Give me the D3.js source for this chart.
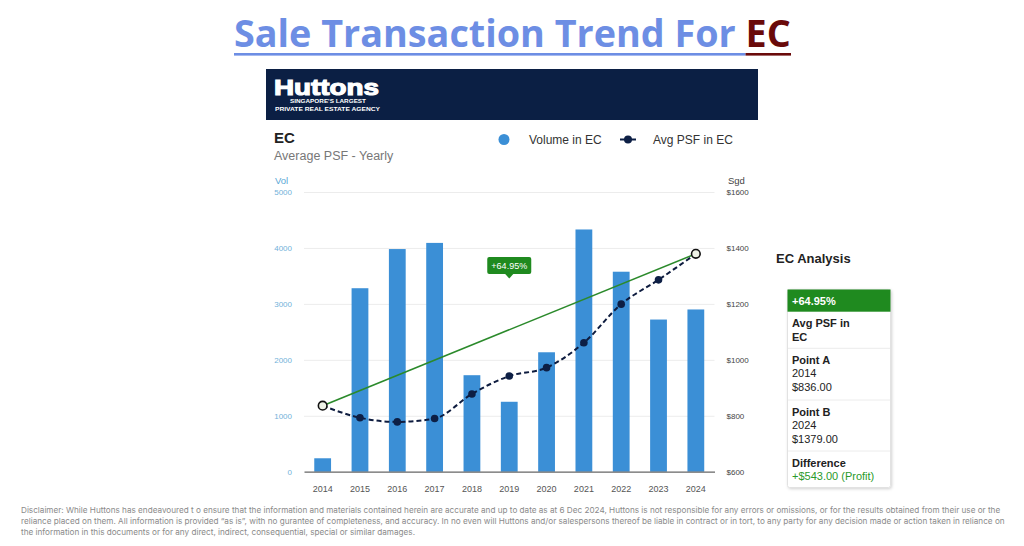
<!DOCTYPE html>
<html><head><meta charset="utf-8">
<script src="https://cdn.jsdelivr.net/npm/d3@7"></script>
<style>body{margin:0;background:#fff;overflow:hidden}svg{display:block}</style>
</head><body>
<svg id="c" width="1024" height="546"></svg>
<script>
// ---- data ----
const years = ["2014","2015","2016","2017","2018","2019","2020","2021","2022","2023","2024"];
const volume = [240, 3280, 3980, 4090, 1725, 1250, 2135, 4330, 3575, 2720, 2900];
const avgPsf = [836, 793, 778, 790, 878, 942, 972, 1061, 1199, 1286, 1379];
const volTicks = [0, 1000, 2000, 3000, 4000, 5000];
const psfTicks = [600, 800, 1000, 1200, 1400, 1600];
const changeLabel = "+64.95%";
const analysisRows = [
  {bold:true, lines:["Avg PSF in","EC"]},
  {bold:false, head:"Point A", lines:["2014","$836.00"]},
  {bold:false, head:"Point B", lines:["2024","$1379.00"]},
  {bold:false, head:"Difference", lines:["+$543.00 (Profit)"], green:true}
];
const disclaimer = [
  "Disclaimer: While Huttons has endeavoured t o ensure that the information and materials contained herein are accurate and up to date as at 6 Dec 2024, Huttons is not responsible for any errors or omissions, or for the results obtained from their use or the",
  "reliance placed on them. All information is provided \u201cas is\u201d, with no gurantee of completeness, and accuracy. In no even will Huttons and/or salespersons thereof be liable in contract or in tort, to any party for any decision made or action taken in reliance on",
  "the information in this documents or for any direct, indirect, consequential, special or similar damages."
];

const svg = d3.select("#c");
const SANS = "'Liberation Sans', Arial, sans-serif";

// ---- Title ----
const title = svg.append("text").attr("x", 234).attr("y", 47)
  .attr("font-family", "'Open Sans', Roboto, sans-serif").attr("font-weight", 700).attr("font-size", 32);
title.append("tspan").attr("fill", "#6d8ee4").text("Sale Transaction Trend For ");
title.append("tspan").attr("fill", "#6a0a0a").text("EC");
let w = title.node().getComputedTextLength();
title.attr("font-size", 32 * 557 / w);
const ecStart = title.node().getStartPositionOfChar(27).x;
svg.append("rect").attr("x", 234).attr("y", 53).attr("width", ecStart - 234).attr("height", 2.6).attr("fill", "#6d8ee4");
svg.append("rect").attr("x", ecStart).attr("y", 53).attr("width", 234 + 557 - ecStart).attr("height", 2.6).attr("fill", "#6a0a0a");

// ---- Header banner ----
svg.append("rect").attr("x", 266).attr("y", 69).attr("width", 492).attr("height", 51).attr("fill", "#0b1f44");
svg.append("text").attr("x", 274).attr("y", 95).attr("fill", "#fff").attr("stroke", "#fff").attr("stroke-width", 1.1)
  .attr("font-family", SANS).attr("font-weight", 900).attr("font-size", 22)
  .attr("textLength", 105).attr("lengthAdjust", "spacingAndGlyphs").text("Huttons");
svg.append("text").attr("x", 290).attr("y", 103).attr("fill", "#fff")
  .attr("font-family", SANS).attr("font-weight", 700).attr("font-size", 6)
  .attr("textLength", 76).attr("lengthAdjust", "spacingAndGlyphs").text("SINGAPORE'S LARGEST");
svg.append("text").attr("x", 275).attr("y", 111).attr("fill", "#fff")
  .attr("font-family", SANS).attr("font-weight", 700).attr("font-size", 6)
  .attr("textLength", 105).attr("lengthAdjust", "spacingAndGlyphs").text("PRIVATE REAL ESTATE AGENCY");

// ---- chart headings ----
svg.append("text").attr("x", 274).attr("y", 143).attr("font-family", SANS).attr("font-weight", 700)
  .attr("font-size", 15).attr("fill", "#222").text("EC");
svg.append("text").attr("x", 274).attr("y", 160).attr("font-family", SANS)
  .attr("font-size", 12.5).attr("fill", "#777").text("Average PSF - Yearly");

// legend
svg.append("circle").attr("cx", 504).attr("cy", 139.5).attr("r", 5.5).attr("fill", "#3b8fd6");
svg.append("text").attr("x", 529).attr("y", 143.5).attr("font-family", SANS).attr("font-size", 12).attr("fill", "#333").text("Volume in EC");
svg.append("line").attr("x1", 620).attr("x2", 636).attr("y1", 139.5).attr("y2", 139.5).attr("stroke", "#0d1f45").attr("stroke-width", 2);
svg.append("circle").attr("cx", 628).attr("cy", 139.5).attr("r", 4).attr("fill", "#0d1f45");
svg.append("text").attr("x", 653).attr("y", 143.5).attr("font-family", SANS).attr("font-size", 12).attr("fill", "#333").text("Avg PSF in EC");

// axis titles
svg.append("text").attr("x", 275).attr("y", 184).attr("font-family", SANS).attr("font-size", 9.5).attr("fill", "#5aa8d6").text("Vol");
svg.append("text").attr("x", 728).attr("y", 184).attr("font-family", SANS).attr("font-size", 9.5).attr("fill", "#444").text("Sgd");

// ---- scales ----
const x = d3.scaleBand().domain(years).range([304, 714.5]).paddingInner(0.55).paddingOuter(0.275);
const yVol = d3.scaleLinear().domain([0, 5000]).range([471.7, 192]);
const yPsf = d3.scaleLinear().domain([600, 1600]).range([471.7, 192]);
const cx = d => x(d) + x.bandwidth() / 2;

// gridlines
const grid = svg.append("g").attr("transform", "translate(304,0)")
  .call(d3.axisLeft(yVol).tickValues(volTicks.slice(1)).tickSize(-410.5).tickFormat(""));
grid.select(".domain").remove();
grid.selectAll("line").attr("stroke", "#ececec");

// left axis labels
const la = svg.append("g").attr("transform", "translate(304,0)")
  .call(d3.axisLeft(yVol).tickValues(volTicks).tickSize(0).tickPadding(12).tickFormat(d3.format("d")));
la.select(".domain").remove();
la.selectAll("text").attr("font-family", SANS).attr("font-size", 8).attr("fill", "#72b2da");

// right axis labels
const ra = svg.append("g").attr("transform", "translate(714.5,0)")
  .call(d3.axisRight(yPsf).tickValues(psfTicks).tickSize(0).tickPadding(12).tickFormat(d => "$" + d));
ra.select(".domain").remove();
ra.selectAll("text").attr("font-family", SANS).attr("font-size", 8).attr("fill", "#444");

// bars
svg.append("g").selectAll("rect").data(years).join("rect")
  .attr("x", d => x(d)).attr("width", x.bandwidth())
  .attr("y", (d, i) => yVol(volume[i])).attr("height", (d, i) => yVol(0) - yVol(volume[i]))
  .attr("fill", "#3b8fd6");

// x axis
const xa = svg.append("g").attr("transform", "translate(0,471.7)")
  .call(d3.axisBottom(x).tickSize(0).tickPadding(13.5));
xa.select(".domain").attr("stroke", "#666").attr("stroke-width", 1.2);
xa.selectAll("text").attr("font-family", SANS).attr("font-size", 9).attr("fill", "#555");

// green trend line between endpoints
const iA = 0, iB = years.length - 1;
svg.append("line").attr("x1", cx(years[iA])).attr("y1", yPsf(avgPsf[iA]))
  .attr("x2", cx(years[iB])).attr("y2", yPsf(avgPsf[iB]))
  .attr("stroke", "#2b8a2b").attr("stroke-width", 1.6);

// PSF line
const line = d3.line().x((d, i) => cx(years[i])).y(d => yPsf(d)).curve(d3.curveMonotoneX);
svg.append("path").datum(avgPsf).attr("d", line).attr("fill", "none")
  .attr("stroke", "#0e1c3f").attr("stroke-width", 2).attr("stroke-dasharray", "5,3");
svg.append("g").selectAll("circle").data(avgPsf.slice(1, -1)).join("circle")
  .attr("cx", (d, i) => cx(years[i + 1])).attr("cy", d => yPsf(d)).attr("r", 3.8).attr("fill", "#0d1f45");
svg.append("g").selectAll("circle").data([iA, iB]).join("circle")
  .attr("cx", i => cx(years[i])).attr("cy", i => yPsf(avgPsf[i])).attr("r", 4.3)
  .attr("fill", "#eef2e6").attr("stroke", "#111").attr("stroke-width", 1.6);

// tooltip
const midX = (cx(years[iA]) + cx(years[iB])) / 2;
const tip = svg.append("g");
tip.append("rect").attr("x", midX - 22).attr("y", 257).attr("width", 44).attr("height", 17).attr("rx", 2).attr("fill", "#1f8a1f");
tip.append("path").attr("d", `M${midX-4.5},273.5L${midX},278.5L${midX+4.5},273.5Z`).attr("fill", "#1f8a1f");
tip.append("text").attr("x", midX).attr("y", 268.8).attr("text-anchor", "middle")
  .attr("font-family", SANS).attr("font-size", 9).attr("fill", "#fff").text(changeLabel);

// ---- analysis panel ----
const defs = svg.append("defs");
const f = defs.append("filter").attr("id", "sh").attr("x", "-10%").attr("y", "-10%").attr("width", "130%").attr("height", "130%");
f.append("feDropShadow").attr("dx", 1).attr("dy", 1).attr("stdDeviation", 1.5).attr("flood-color", "#000").attr("flood-opacity", 0.18);

svg.append("text").attr("x", 776).attr("y", 263).attr("font-family", SANS).attr("font-weight", 700)
  .attr("font-size", 13).attr("fill", "#222").text("EC Analysis");
svg.append("rect").attr("x", 787.5).attr("y", 289.5).attr("width", 103).attr("height", 198).attr("rx", 2)
  .attr("fill", "#fff").attr("stroke", "#e2e2e2").attr("filter", "url(#sh)");
svg.append("rect").attr("x", 787.5).attr("y", 289.5).attr("width", 103).attr("height", 22.2).attr("fill", "#1f8a1f");
svg.append("text").attr("x", 792).attr("y", 305).attr("font-family", SANS).attr("font-weight", 700)
  .attr("font-size", 11).attr("fill", "#fff").text(changeLabel);

const rowTops = [311.7, 348.3, 400, 451];
analysisRows.forEach((r, k) => {
  let y = rowTops[k] + 15.5;
  if (k > 0) svg.append("line").attr("x1", 788).attr("x2", 890).attr("y1", rowTops[k]).attr("y2", rowTops[k]).attr("stroke", "#ececec");
  if (r.head) {
    svg.append("text").attr("x", 792).attr("y", y).attr("font-family", SANS).attr("font-weight", 700)
      .attr("font-size", 11).attr("fill", "#222").text(r.head);
    y += 13.6;
  }
  r.lines.forEach(l => {
    svg.append("text").attr("x", 792).attr("y", y).attr("font-family", SANS)
      .attr("font-weight", r.bold ? 700 : 400).attr("font-size", 11)
      .attr("fill", r.green ? "#2a9a2a" : "#222").text(l);
    y += 13.6;
  });
});

// ---- disclaimer ----
const dl = svg.append("g").attr("font-family", "Inter, 'Open Sans', sans-serif").attr("fill", "#8a8a8a");
const d0 = dl.append("text").attr("x", 21).attr("y", 513).attr("font-size", 8).text(disclaimer[0]);
const fs = 8 * 980 / d0.node().getComputedTextLength();
d0.attr("font-size", fs);
disclaimer.slice(1).forEach((s, i) => {
  dl.append("text").attr("x", 21).attr("y", 524 + i * 11).attr("font-size", fs).text(s);
});
</script>
</body></html>
